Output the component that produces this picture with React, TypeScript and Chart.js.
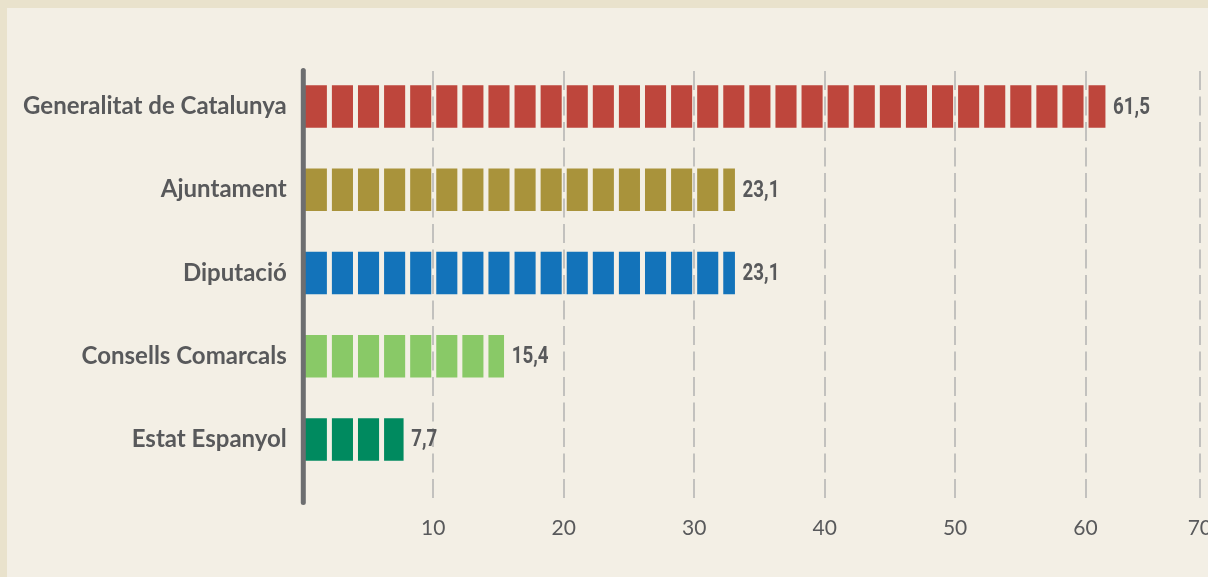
import React, { useEffect, useRef } from 'react';
import { Chart, registerables } from 'chart.js';

Chart.register(...registerables);

const categories = [
  'Generalitat de Catalunya',
  'Ajuntament',
  'Diputació',
  'Consells Comarcals',
  'Estat Espanyol',
];
// bar lengths as drawn in the picture
const barValues = [61.5, 33.1, 33.1, 15.4, 7.7];
// value labels as printed next to the bars
const valueLabels = ['61,5', '23,1', '23,1', '15,4', '7,7'];
const barColors = ['#be463c', '#a9933b', '#1373ba', '#89c967', '#008a5f'];
const tickValues = [10, 20, 30, 40, 50, 60, 70];
const tickLabels = ['10', '20', '30', '40', '50', '60', '70'];

const AXIS_MAX = 68.76;
const BLOCK_STEP = 2;
const PANEL_BG = '#f3efe5';
const OUTER_BG = '#e9e2cc';
const TEXT = '#58595b';
const LABEL_FONT = 'Lato, "Noto Sans", sans-serif';
const VALUE_FONT = 'Roboto, "Noto Sans", sans-serif';

const W = 1240;
const H = 569;

const decorPlugin = {
  id: 'decor',
  afterDatasetsDraw(chart: any) {
    const ctx = chart.ctx;
    const xs = chart.scales.x;
    const meta = chart.getDatasetMeta(0);
    const x0 = xs.getPixelForValue(0);
    ctx.save();
    // gaps between blocks
    meta.data.forEach((bar: any, i: number) => {
      const v = barValues[i];
      const half = bar.height / 2;
      ctx.fillStyle = PANEL_BG;
      for (let k = BLOCK_STEP; k < v; k += BLOCK_STEP) {
        const px = xs.getPixelForValue(k);
        ctx.fillRect(px - 2, bar.y - half - 1, 5, bar.height + 2);
      }
    });
    // dashed grid lines
    ctx.strokeStyle = 'rgba(175,175,175,0.72)';
    ctx.lineWidth = 2;
    ctx.setLineDash([19, 6.5]);
    xs.ticks.forEach((t: any) => {
      const px = Math.round(xs.getPixelForValue(t.value));
      ctx.beginPath();
      ctx.moveTo(px, 63);
      ctx.lineTo(px, 495);
      ctx.stroke();
    });
    ctx.setLineDash([]);
    // axis line
    ctx.strokeStyle = '#6d6e70';
    ctx.lineWidth = 5;
    ctx.lineCap = 'round';
    ctx.beginPath();
    ctx.moveTo(x0 + 0.5, 62.5);
    ctx.lineTo(x0 + 0.5, 494.5);
    ctx.stroke();
    // value labels (condensed bold)
    ctx.fillStyle = TEXT;
    ctx.font = 'bold 24px ' + VALUE_FONT;
    ctx.textAlign = 'left';
    ctx.textBaseline = 'middle';
    meta.data.forEach((bar: any, i: number) => {
      ctx.save();
      ctx.translate(bar.x + 8, bar.y + 1);
      ctx.scale(0.78, 1);
      ctx.fillText(valueLabels[i], 0, 0);
      ctx.restore();
    });
    ctx.restore();
  },
};

export default function App() {
  const ref = useRef<HTMLCanvasElement>(null);
  useEffect(() => {
    let chart: Chart | null = null;
    let cancelled = false;
    const fonts = ['bold 24px Lato', '21px Lato', 'bold 24px Roboto'];
    Promise.all(fonts.map((f) => document.fonts.load(f).catch(() => null))).then(() => {
      if (cancelled || !ref.current) return;
      chart = new Chart(ref.current, {
        type: 'bar',
        data: {
          labels: categories,
          datasets: [
            {
              data: barValues,
              backgroundColor: barColors,
              borderWidth: 0,
              barThickness: 42,
            },
          ],
        },
        plugins: [decorPlugin],
        options: {
          indexAxis: 'y',
          responsive: false,
          animation: false,
          layout: { padding: { left: 0, top: 56.9, right: 0, bottom: 0 } },
          plugins: { legend: { display: false }, tooltip: { enabled: false } },
          scales: {
            x: {
              type: 'linear',
              min: 0,
              max: AXIS_MAX,
              border: { display: false },
              grid: { display: false, drawTicks: false },
              afterBuildTicks: (scale: any) => {
                scale.ticks = tickValues.map((v) => ({ value: Math.min(v, AXIS_MAX) }));
              },
              afterFit: (scale: any) => {
                scale.height = H - 473.1;
              },
              ticks: {
                autoSkip: false,
                maxRotation: 0,
                padding: 35,
                color: TEXT,
                font: { family: LABEL_FONT, size: 21, weight: 'normal' },
                callback: (_v: any, i: number) => tickLabels[i],
              },
            },
            y: {
              border: { display: false },
              grid: { display: false, drawTicks: false },
              afterFit: (scale: any) => {
                scale.width = 295.8;
              },
              ticks: {
                padding: 16,
                color: TEXT,
                font: { family: LABEL_FONT, size: 24, weight: 'bold' },
              },
            },
          },
        },
      } as any);
    });
    return () => {
      cancelled = true;
      if (chart) chart.destroy();
    };
  }, []);
  return (
    <div style={{ position: 'fixed', inset: 0, background: OUTER_BG, overflow: 'hidden' }}>
      <div style={{ position: 'absolute', left: 7, top: 8, width: W, height: H, background: PANEL_BG }}>
        <canvas ref={ref} width={W} height={H} style={{ display: 'block', width: W, height: H }} />
      </div>
    </div>
  );
}
